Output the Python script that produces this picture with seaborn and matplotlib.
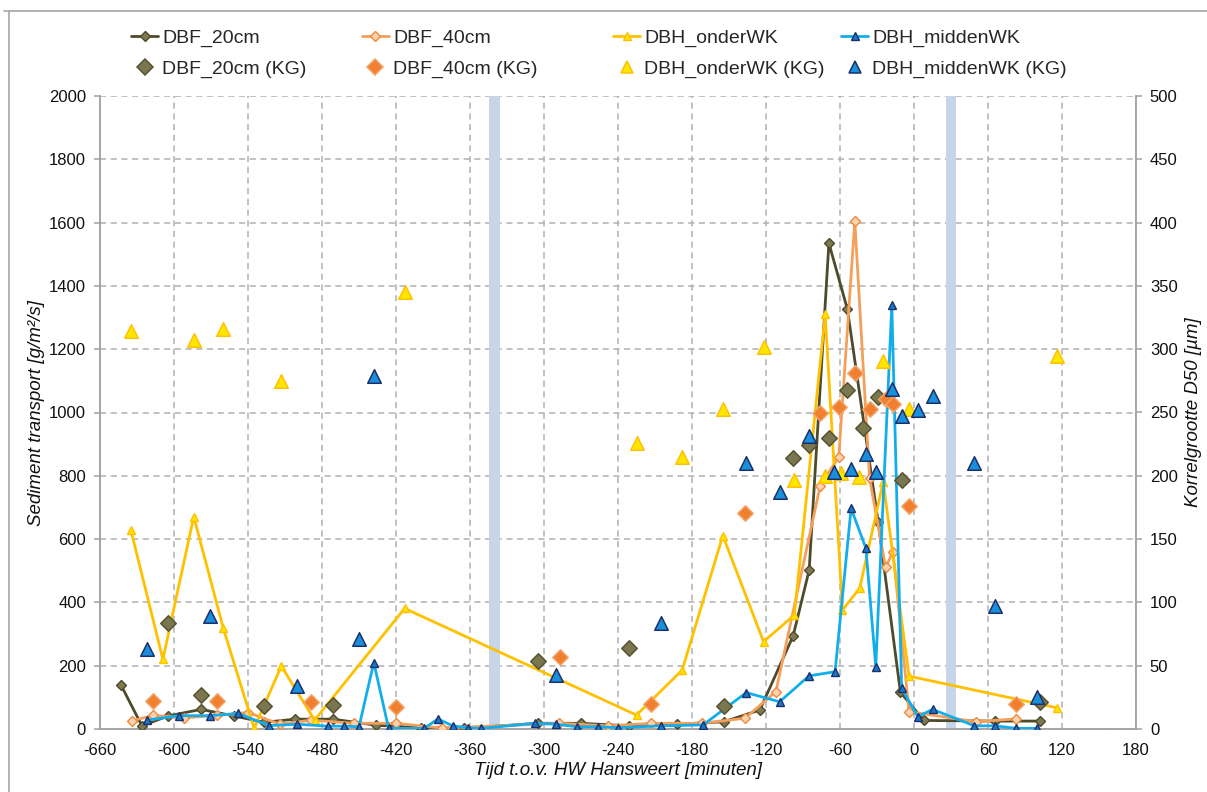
import matplotlib
matplotlib.use("Agg")
import matplotlib.pyplot as plt
from matplotlib.lines import Line2D
import pandas as pd
import seaborn as sns

sns.set_style("white")
plt.rcParams['font.family'] = ['Liberation Sans', 'DejaVu Sans']
plt.rcParams['axes.unicode_minus'] = False

# ---- sediment transport series [g/m2/s], time relative to HW Hansweert [min] ----
dbf20_t = [-643, -626, -605, -578, -551, -527, -502, -471, -436, -400, -365, -305,
           -270, -231, -192, -154, -125, -98, -85, -69, -54, -29, -11, 8, 66, 102]
dbf20_v = [139, 10, 41, 62, 41, 21, 31, 31, 12, 4, 2, 18,
           18, 10, 15, 23, 60, 294, 502, 1535, 1326, 653, 116, 27, 25, 25]

dbf40_t = [-634, -617, -592, -565, -540, -514, -489, -454, -420, -383, -288, -248,
           -213, -172, -137, -112, -76, -61, -48, -36, -23, -17, -4, 50, 83]
dbf40_v = [26, 43, 35, 43, 52, 15, 28, 18, 18, 3, 18, 10,
           18, 18, 34, 118, 769, 860, 1605, 792, 511, 560, 55, 23, 32]

onder_t = [-635, -609, -584, -560, -535, -513, -486, -413, -225, -188, -155, -122,
           -97, -72, -58, -44, -25, -4, 116]
onder_v = [629, 220, 671, 318, 2, 199, 28, 381, 44, 186, 611, 276,
           360, 1310, 376, 445, 781, 167, 67]

midden_t = [-622, -596, -571, -548, -523, -500, -475, -462, -450, -438, -426, -397,
            -386, -374, -362, -351, -307, -290, -273, -256, -240, -205, -171, -136,
            -109, -85, -64, -51, -39, -31, -18, -10, 3, 15, 49, 66, 83, 100]
midden_v = [28, 42, 42, 49, 11, 15, 9, 9, 7, 210, 2, 2,
            32, 10, 4, 2, 18, 15, 7, 7, 4, 10, 13, 115,
            86, 168, 181, 697, 571, 197, 1340, 129, 39, 62, 10, 10, 2, 2]

# ---- grain size D50 [um] (KG) ----
dbf20_kg_t = [-605, -578, -527, -471, -305, -231, -154, -98, -85, -69, -54, -41, -29, -10, 102]
dbf20_kg_d = [84, 27, 18.5, 19, 54, 64, 18, 214, 224, 230, 268, 238, 262, 197, 21.5]

dbf40_kg_t = [-617, -565, -489, -420, -287, -213, -137, -76, -61, -48, -36, -23, -17, -4, 83]
dbf40_kg_d = [22.5, 22.5, 21, 17, 57, 20, 171, 249.5, 254, 281, 252.5, 261, 257, 176, 20]

onder_kg_t = [-635, -584, -560, -513, -413, -225, -188, -155, -122, -97, -72, -59, -45, -25, -4, 116]
onder_kg_d = [314, 307, 316, 275, 345, 226, 215, 252.5, 302, 197, 200, 202, 199, 291, 252.5, 295]

midden_kg_t = [-622, -571, -500, -450, -438, -290, -205, -136, -109, -85, -65, -51, -39,
               -31, -18, -10, 3, 15, 49, 66, 100]
midden_kg_d = [63, 89, 34, 71, 279, 43, 83.5, 210, 187, 231.5, 203, 205.5, 217,
               203, 268.5, 247, 252, 263, 210, 97.5, 25]

# marked time windows
bands = [(-345, -336), (26, 34)]

x_ticks = list(range(-660, 181, 60))
y_ticks = list(range(0, 2001, 200))
y2_ticks = list(range(0, 501, 50))

# ---- styles ----
series = [
    dict(name="DBF_20cm", t=dbf20_t, v=dbf20_v, color="#4E4A2C", marker="D", ms=5.5,
         mfc="#7E7950", mec="#4E4A2C",
         kg_t=dbf20_kg_t, kg_d=dbf20_kg_d, kg_fc="#7A7650", kg_ec="#57532F", kg_m="D", kg_s=62),
    dict(name="DBF_40cm", t=dbf40_t, v=dbf40_v, color="#F5A05A", marker="D", ms=5.5,
         mfc="#FCD2B0", mec="#EE8A3E",
         kg_t=dbf40_kg_t, kg_d=dbf40_kg_d, kg_fc="#F08030", kg_ec="#F4A468", kg_m="D", kg_s=62),
    dict(name="DBH_onderWK", t=onder_t, v=onder_v, color="#FFC000", marker="^", ms=6,
         mfc="#FFE400", mec="#FFC000",
         kg_t=onder_kg_t, kg_d=onder_kg_d, kg_fc="#FFE600", kg_ec="#FFC000", kg_m="^", kg_s=95),
    dict(name="DBH_middenWK", t=midden_t, v=midden_v, color="#12AEEC", marker="^", ms=6,
         mfc="#1877C8", mec="#1B2F6B",
         kg_t=midden_kg_t, kg_d=midden_kg_d, kg_fc="#1A8FDB", kg_ec="#1B2F6B", kg_m="^", kg_s=95),
]

W, H = 1207, 792
fig = plt.figure(figsize=(W / 100, H / 100), dpi=100)
ax = fig.add_axes([100 / W, 63 / H, 1036 / W, 633 / H])
ax2 = ax.twinx()

grid_kw = dict(color="#B0B0B0", linestyle=(0, (4, 3)), linewidth=1.1)
ax.set_axisbelow(True)
ax.grid(True, axis="both", **grid_kw)

for lo, hi in bands:
    ax.axvspan(lo, hi, color="#C6D5E9", zorder=1, lw=0)

for s in series:
    df = pd.DataFrame({"t": s["t"], "v": s["v"]})
    sns.lineplot(data=df, x="t", y="v", ax=ax, color=s["color"], lw=2,
                 marker=s["marker"], markersize=s["ms"], markerfacecolor=s["mfc"],
                 markeredgecolor=s["mec"], markeredgewidth=1,
                 estimator=None, sort=False, legend=False, zorder=3)

for s in series:
    dk = pd.DataFrame({"t": s["kg_t"], "d": s["kg_d"]})
    sns.scatterplot(data=dk, x="t", y="d", ax=ax2, marker=s["kg_m"], s=s["kg_s"],
                    color=s["kg_fc"], edgecolor=s["kg_ec"], linewidth=1.1,
                    legend=False, zorder=4)

ax.set_xlim(-660, 180)
ax.set_ylim(0, 2000)
ax2.set_ylim(0, 500)
ax.set_xticks(x_ticks)
ax.set_yticks(y_ticks)
ax2.set_yticks(y2_ticks)

spine_c = "#A0A0A0"
for a in (ax, ax2):
    for side in a.spines:
        a.spines[side].set_visible(False)
ax.spines["left"].set_visible(True)
ax.spines["bottom"].set_visible(True)
ax2.spines["right"].set_visible(True)
for sp in (ax.spines["left"], ax.spines["bottom"], ax2.spines["right"]):
    sp.set_color(spine_c)
    sp.set_linewidth(1.3)

tick_kw = dict(direction="out", length=4, width=1.1, color=spine_c, pad=6,
               labelsize=12, labelcolor="#111111")
ax.tick_params(axis="both", **tick_kw)
ax2.tick_params(axis="y", **tick_kw)

lab_kw = dict(fontsize=13.5, style="italic", color="#111111")
ax.set_xlabel("Tijd t.o.v. HW Hansweert [minuten]", labelpad=3, **lab_kw)
ax.set_ylabel("Sediment transport [g/m²/s]", labelpad=3, **lab_kw)
ax2.set_ylabel("Korrelgrootte D50 [µm]", labelpad=5, **lab_kw)

# legend: one column per measuring location (line series + grain size)
leg_fs = 14
col_text_x = [162, 393, 644, 872]
for s, xtxt in zip(series, col_text_x):
    h_line = Line2D([], [], color=s["color"], lw=2, marker=s["marker"], ms=s["ms"],
                    mfc=s["mfc"], mec=s["mec"], mew=1)
    h_kg = Line2D([], [], ls="none", marker=s["kg_m"],
                  ms=8 if s["kg_m"] == "D" else 9,
                  mfc=s["kg_fc"], mec=s["kg_ec"], mew=1.1)
    x0 = xtxt - (1.4 + 0.2) * leg_fs * 100 / 72
    fig.legend([h_line, h_kg], [s["name"], s["name"] + " (KG)"],
               loc="upper left", bbox_to_anchor=(x0 / W, 1 - 29.5 / H),
               frameon=False, fontsize=leg_fs, handlelength=1.4, handletextpad=0.2,
               labelspacing=0.68, borderpad=0, borderaxespad=0, numpoints=1)

# outer chart frame
fig.add_artist(Line2D([4 / W, 1.0], [1 - 11 / H, 1 - 11 / H], transform=fig.transFigure,
                      color="#A6A6A6", lw=1.2))
fig.add_artist(Line2D([9 / W, 9 / W], [0.0, 1 - 11 / H], transform=fig.transFigure,
                      color="#A6A6A6", lw=1.2))

fig.savefig("out.png", dpi=100)
